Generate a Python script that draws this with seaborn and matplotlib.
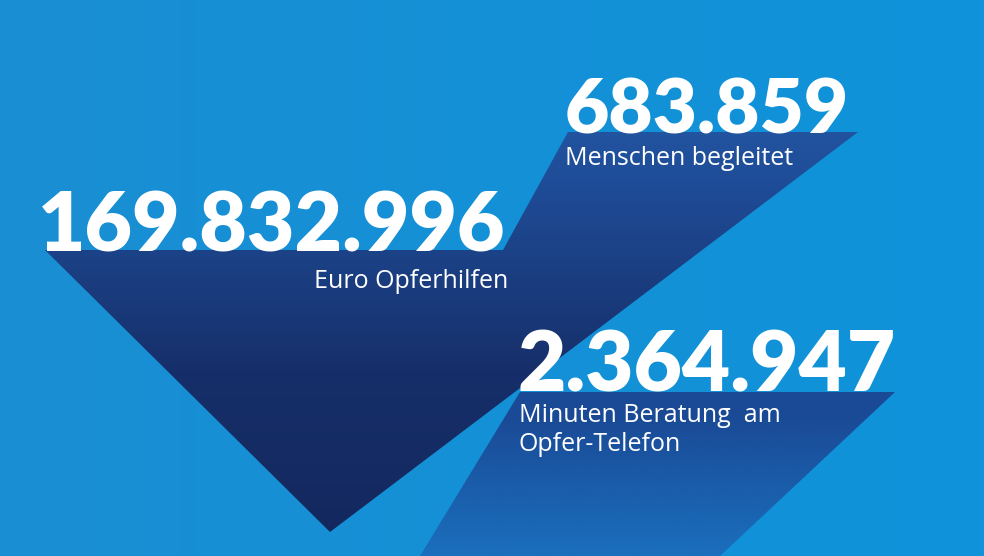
import numpy as np
import matplotlib
matplotlib.use('Agg')
import matplotlib.pyplot as plt
from matplotlib.patches import Polygon
import seaborn as sns

# ─── Data ─────────────────────────────────────────────────────────────────────
values = ["683.859", "169.832.996", "2.364.947"]
labels = ["Menschen begleitet", "Euro Opferhilfen", "Minuten Beratung  am\nOpfer-Telefon"]

BG = "#1590d4"
WHITE = "#ffffff"

sns.set_theme(style="white")
plt.rcParams['font.family'] = ['Open Sans', 'DejaVu Sans']

fig = plt.figure(figsize=(9.84, 5.56), dpi=100)
ax = fig.add_axes([0, 0, 1, 1])
ax.set_xlim(0, 984)
ax.set_ylim(556, 0)
ax.axis("off")
fig.patch.set_facecolor(BG)

# background gradient
bg = np.linspace(0, 1, 256).reshape(1, -1)
ax.imshow(bg, extent=(0, 984, 556, 0), aspect="auto", zorder=0,
          cmap=matplotlib.colors.LinearSegmentedColormap.from_list("bg", ["#1a8ed3", "#0f93da"]))

def shadow(pts, colors, zorder=1):
    poly = Polygon(pts, closed=True, facecolor="none", edgecolor="none")
    ax.add_patch(poly)
    grad = np.linspace(0, 1, 256).reshape(-1, 1)
    cmap = matplotlib.colors.LinearSegmentedColormap.from_list("s", colors)
    im = ax.imshow(grad, extent=(0, 984, 556, 0), aspect="auto", cmap=cmap, zorder=zorder)
    im.set_clip_path(poly)

# long shadows behind the numbers
shadow([(45, 250), (503, 250), (568, 132), (858, 132), (330, 532)],
       ["#2a66b4", "#1f4c97", "#162f6a", "#13275c"])
shadow([(520, 392), (895, 392), (720, 556), (420, 556)],
       ["#1493d8", "#1493d8", "#1d4f9c", "#1a4a96", "#1a6fbd"], zorder=2)

big = dict(color=WHITE, fontweight="heavy", zorder=3, family=['Lato', 'DejaVu Sans'])
small = dict(color=WHITE, fontsize=18, zorder=3, linespacing=1.2)

ax.text(565, 133, values[0], fontsize=55, ha="left", va="baseline", **big)
ax.text(565, 165, labels[0], ha="left", va="baseline", **small)

ax.text(38, 251, values[1], fontsize=59, ha="left", va="baseline", **big)
ax.text(508, 288, labels[1], ha="right", va="baseline", **small)

ax.text(517, 391, values[2], fontsize=60, ha="left", va="baseline", **big)
ax.text(519, 403, labels[2], ha="left", va="top", **small)

fig.savefig("out.png", dpi=100, facecolor=BG)
